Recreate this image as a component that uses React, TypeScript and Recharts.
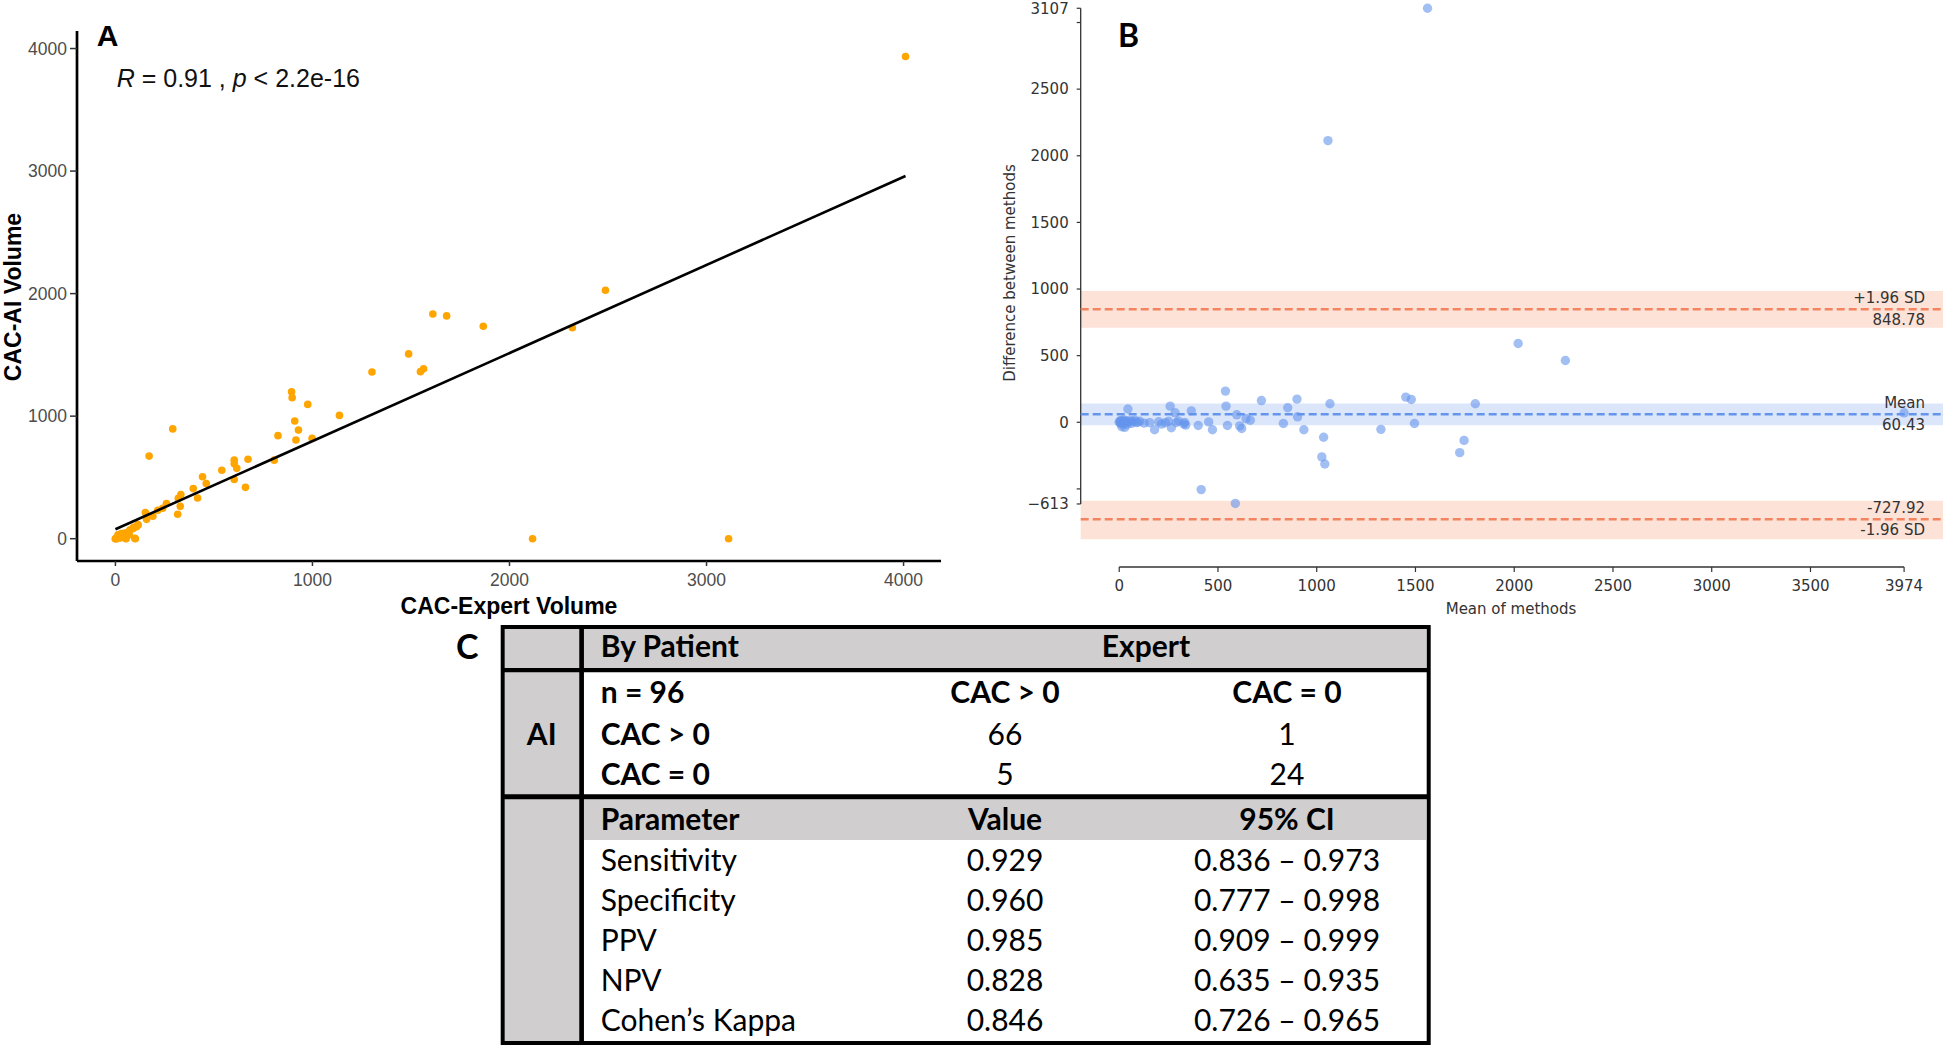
import React from 'react';
import { ScatterChart, Scatter, XAxis, YAxis, ReferenceLine, ReferenceArea } from 'recharts';

// Panel A - CAC volume, expert reading vs AI
const expertVolume = [
  4010, 2487, 1611, 1681, 1867, 2319, 1488, 1302, 1548, 1564, 894, 897, 976, 1137, 910, 929, 916, 998, 825,
  291, 171, 806, 603, 673, 603, 616, 540, 603, 660, 442, 461, 395, 417, 332, 319, 329, 316, 259, 240, 215,
  152, 158, 190, 114, 92, 76, 44, 13, 0, 25, 54, 101, 70, 2117, 3112,
  0, 5, 13, 30, 52, 56, 73, 90, 98, 107, 115, 20, 38, 8,
];
const aiVolume = [
  3935, 2027, 1834, 1818, 1734, 1721, 1508, 1360, 1363, 1386, 1199, 1151, 1096, 1006, 960, 886, 806, 819, 841,
  896, 674, 641, 641, 648, 612, 574, 558, 483, 419, 506, 451, 409, 332, 361, 329, 264, 200, 287, 248, 232,
  213, 158, 184, 116, 93, 71, 45, 32, 0, 6, 0, 0, 32, 0, 0,
  0, 0, 16, 43, 3, 49, 71, 84, 3, 98, 111, 10, 22, 5,
];
const fitX = [0, 4010];
const fitY = [77, 2960];
const volTicks = [0, 1000, 2000, 3000, 4000];

// Panel B - Bland-Altman
const meanOfMethods = [
  1561, 1057, 2020, 2259, 538, 720, 900, 1067, 1451, 1479, 1803, 3974, 541, 258, 44, 365, 283, 853, 903, 595,
  642, 664, 13, 28, 94, 154, 179, 233, 264, 327, 337, 400, 453, 472, 548, 610, 620, 831, 935, 1325, 1495,
  1035, 1746, 1026, 1041, 1724, 415, 588,
  0, 3, 6, 9, 12, 16, 20, 24, 30, 35, 40, 48, 55, 62, 70, 78, 86, 104, 126, 200, 214, 250, 290, 300, 332,
];
const diffOfMethods = [
  3107, 2114, 591, 464, 234, 163, 174, 139, 189, 171, 139, 71, 121, 121, 100, 86, 71, 109, 41, 56,
  27, 15, -33, -38, 0, -3, -56, -3, -41, -12, -21, -24, 3, -56, -24, -27, -47, -9, -56, -53, -9,
  -112, -136, -260, -313, -228, -505, -609,
  0, 8, -6, 14, 3, -12, 6, 18, -4, 10, -16, 4, 12, -8, 6, 16, -2, 8, -6, 4, -14, 8, -2, 10, -2,
];
const meanDiff = 60.43;
const upperLoA = 848.78;
const lowerLoA = -727.92;
const meanBand = [-22, 141];
const upperBand = [709, 986];
const lowerBand = [-877, -588];
const baXTicks = [0, 500, 1000, 1500, 2000, 2500, 3000, 3500, 3974];
const baYTicks = [-613, -500, 0, 500, 1000, 1500, 2000, 2500, 3000, 3107];
const baYHidden = [-500, 3000];

// Panel C - agreement table
const countCols = ['n = 96', 'CAC > 0', 'CAC = 0'];
const countRowLabels = ['CAC > 0', 'CAC = 0'];
const countPos = ['66', '5'];
const countNeg = ['1', '24'];
const paramCols = ['Parameter', 'Value', '95% CI'];
const paramNames = ['Sensitivity', 'Specificity', 'PPV', 'NPV', 'Cohen’s Kappa'];
const paramValues = ['0.929', '0.960', '0.985', '0.828', '0.846'];
const paramCI = ['0.836 – 0.973', '0.777 – 0.998', '0.909 – 0.999', '0.635 – 0.935', '0.726 – 0.965'];

const pointsA = expertVolume.map((x, i) => ({ x, y: aiVolume[i] }));
const fitLine = fitX.map((x, i) => ({ x, y: fitY[i] }));
const pointsB = meanOfMethods.map((x, i) => ({ x, y: diffOfMethods[i] }));

const orangeDot = (p: any) => <circle cx={p.cx} cy={p.cy} r={3.8} fill="#FFA500" />;
const blueDot = (p: any) => <circle cx={p.cx} cy={p.cy} r={4.7} fill="#6495ED" fillOpacity={0.6} />;
const noDot = () => <g />;

const baFont = 'DejaVu Sans, sans-serif';
const sideLabel = (above: string, below: string) => (props: any) => {
  const vb = props.viewBox || {};
  const x = vb.x + vb.width - 18;
  const y = vb.y;
  return (
    <g>
      <text x={x} y={y - 11} textAnchor="end" dominantBaseline="central" fontSize={15} fontFamily={baFont} fill="#333">{above}</text>
      <text x={x} y={y + 11} textAnchor="end" dominantBaseline="central" fontSize={15} fontFamily={baFont} fill="#333">{below}</text>
    </g>
  );
};

const PanelA = () => (
  <ScatterChart width={960} height={620} margin={{ top: 31, right: 19, bottom: 0, left: 0 }}>
    <XAxis
      type="number" dataKey="x" domain={[-195, 4190]} ticks={volTicks} allowDataOverflow height={59}
      axisLine={{ stroke: '#000', strokeWidth: 2.7 }} tickLine={{ stroke: '#333', strokeWidth: 1.5 }}
      tickSize={5} tickMargin={8}
      tick={{ fill: '#4D4D4D', fontSize: 17.5, fontFamily: 'Liberation Sans, Arial, sans-serif' }}
    />
    <YAxis
      type="number" dataKey="y" domain={[-182, 4143]} ticks={volTicks} allowDataOverflow width={77}
      axisLine={{ stroke: '#000', strokeWidth: 2.7 }} tickLine={{ stroke: '#333', strokeWidth: 1.5 }}
      tickSize={7} tickMargin={3}
      tick={{ fill: '#4D4D4D', fontSize: 17.5, fontFamily: 'Liberation Sans, Arial, sans-serif' }}
    />
    <Scatter data={pointsA} shape={orangeDot} isAnimationActive={false} />
    <Scatter data={fitLine} line={{ stroke: '#000', strokeWidth: 2.6 }} shape={noDot} isAnimationActive={false} />
  </ScatterChart>
);

const PanelB = () => (
  <ScatterChart width={986} height={620} margin={{ top: 0, right: 3, bottom: 0, left: 0 }}>
    <XAxis
      type="number" dataKey="x" domain={[-195, 4171]} ticks={baXTicks} allowDataOverflow height={53}
      axisLine={false} tickLine={{ stroke: '#333', strokeWidth: 1.2 }} tickSize={5} tickMargin={8}
      tick={{ fill: '#333', fontSize: 15, fontFamily: baFont }}
    />
    <YAxis
      type="number" dataKey="y" domain={[-1086, 3169]} ticks={baYTicks} allowDataOverflow width={120.7}
      axisLine={false} tickLine={{ stroke: '#333', strokeWidth: 1.2 }} tickSize={4} tickMargin={8}
      tickFormatter={(v: number) => (baYHidden.includes(v) ? '' : String(v).replace('-', '−'))}
      tick={{ fill: '#333', fontSize: 15, fontFamily: baFont }}
    />
    <ReferenceArea y1={upperBand[0]} y2={upperBand[1]} fill="#FDE2D8" fillOpacity={1} stroke="none" ifOverflow="visible" />
    <ReferenceArea y1={meanBand[0]} y2={meanBand[1]} fill="#DCE6FA" fillOpacity={1} stroke="none" ifOverflow="visible" />
    <ReferenceArea y1={lowerBand[0]} y2={lowerBand[1]} fill="#FDE2D8" fillOpacity={1} stroke="none" ifOverflow="visible" />
    <ReferenceLine segment={[{ x: -195, y: -613 }, { x: -195, y: 3107 }]} stroke="#333" strokeWidth={1.3} ifOverflow="visible" />
    <ReferenceLine segment={[{ x: 0, y: -1086 }, { x: 3974, y: -1086 }]} stroke="#333" strokeWidth={1.3} ifOverflow="visible" />
    <Scatter data={pointsB} shape={blueDot} isAnimationActive={false} />
    <ReferenceLine y={upperLoA} stroke="#F4845F" strokeWidth={2.6} strokeDasharray="8 4" label={sideLabel('+1.96 SD', upperLoA.toFixed(2))} />
    <ReferenceLine y={meanDiff} stroke="#6495ED" strokeWidth={2.6} strokeDasharray="8 4" label={sideLabel('Mean', meanDiff.toFixed(2))} />
    <ReferenceLine y={lowerLoA} stroke="#F4845F" strokeWidth={2.6} strokeDasharray="8 4" label={sideLabel(lowerLoA.toFixed(2), '-1.96 SD')} />
  </ScatterChart>
);

const tFont = 'Lato, sans-serif';
const colX = [600.7, 1005, 1287];
const paramBase = 870.5;
const paramStep = 40.1;

const PanelC = () => (
  <g fontFamily={tFont} fontSize={30} fill="#000">
    <text x={456} y={659} fontSize={34} fontWeight={700}>C</text>
    <rect x={504.7} y={629} width={75} height={412} fill="#D0CECE" />
    <rect x={584} y={629} width={842} height={39} fill="#D0CECE" />
    <rect x={584} y={799.3} width={842} height={40.7} fill="#D0CECE" />
    <rect x={502.7} y={627} width={926} height={416} fill="none" stroke="#000" strokeWidth={4} />
    <line x1={581.6} y1={627} x2={581.6} y2={1043} stroke="#000" strokeWidth={4.7} />
    <line x1={502.7} y1={670.2} x2={1428.7} y2={670.2} stroke="#000" strokeWidth={4.3} />
    <line x1={502.7} y1={796.8} x2={1428.7} y2={796.8} stroke="#000" strokeWidth={5} />

    <text x={colX[0]} y={656.7} fontWeight={700}>By Patient</text>
    <text x={(colX[1] + colX[2]) / 2} y={656.7} fontWeight={700} textAnchor="middle">Expert</text>
    <text x={541.7} y={745} fontWeight={700} textAnchor="middle">AI</text>

    <text x={colX[0]} y={703.3} fontWeight={700}>{countCols[0]}</text>
    <text x={colX[1]} y={703.3} fontWeight={700} textAnchor="middle">{countCols[1]}</text>
    <text x={colX[2]} y={703.3} fontWeight={700} textAnchor="middle">{countCols[2]}</text>
    {countRowLabels.map((r, i) => (
      <g key={r}>
        <text x={colX[0]} y={745 + i * 40} fontWeight={700}>{r}</text>
        <text x={colX[1]} y={745 + i * 40} textAnchor="middle">{countPos[i]}</text>
        <text x={colX[2]} y={745 + i * 40} textAnchor="middle">{countNeg[i]}</text>
      </g>
    ))}

    <text x={colX[0]} y={830} fontWeight={700}>{paramCols[0]}</text>
    <text x={colX[1]} y={830} fontWeight={700} textAnchor="middle">{paramCols[1]}</text>
    <text x={colX[2]} y={830} fontWeight={700} textAnchor="middle">{paramCols[2]}</text>
    {paramNames.map((n, i) => (
      <g key={n}>
        <text x={colX[0]} y={paramBase + i * paramStep}>{n}</text>
        <text x={colX[1]} y={paramBase + i * paramStep} textAnchor="middle">{paramValues[i]}</text>
        <text x={colX[2]} y={paramBase + i * paramStep} textAnchor="middle">{paramCI[i]}</text>
      </g>
    ))}
  </g>
);

export default function App() {
  const arial = 'Liberation Sans, Arial, sans-serif';
  return (
    <div style={{ position: 'absolute', left: 0, top: 0, width: 1946, height: 1047, background: '#fff', overflow: 'hidden' }}>
      <div style={{ position: 'absolute', left: 0, top: 0 }}>
        <PanelA />
      </div>
      <div style={{ position: 'absolute', left: 960, top: 0 }}>
        <PanelB />
      </div>
      <svg width={1946} height={1047} style={{ position: 'absolute', left: 0, top: 0, pointerEvents: 'none' }}>
        <text x={96.7} y={46} fontFamily={arial} fontWeight={700} fontSize={30}>A</text>
        <text x={116.7} y={87.3} fontFamily={arial} fontSize={25} fill="#111">
          <tspan fontStyle="italic">R</tspan> = 0.91 , <tspan fontStyle="italic">p</tspan> &lt; 2.2e-16
        </text>
        <text x={12.5} y={297} transform="rotate(-90 12.5 297)" textAnchor="middle" dominantBaseline="central"
          fontFamily={arial} fontWeight={700} fontSize={23}>CAC-AI Volume</text>
        <text x={509} y={614} textAnchor="middle" fontFamily={arial} fontWeight={700} fontSize={23}>CAC-Expert Volume</text>

        <text x={1118} y={47.3} fontFamily={tFont} fontWeight={700} fontSize={32}>B</text>
        <text x={1010} y={273} transform="rotate(-90 1010 273)" textAnchor="middle" dominantBaseline="central"
          fontFamily={baFont} fontSize={15} fill="#333">Difference between methods</text>
        <text x={1511} y={613.5} textAnchor="middle" fontFamily={baFont} fontSize={15} fill="#333">Mean of methods</text>

        <PanelC />
      </svg>
    </div>
  );
}
